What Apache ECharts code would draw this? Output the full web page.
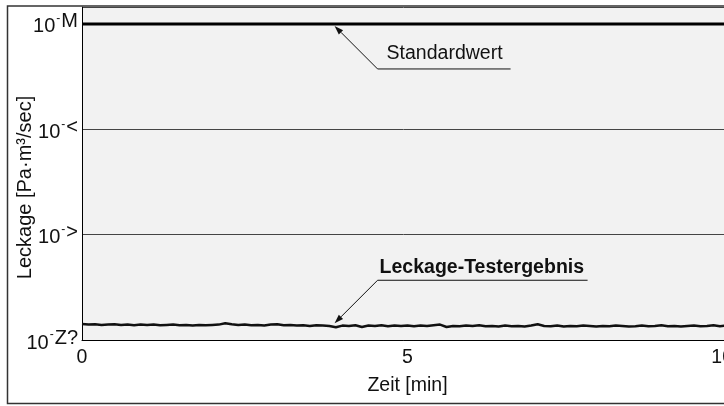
<!DOCTYPE html>
<html>
<head>
<meta charset="utf-8">
<script src="https://cdn.jsdelivr.net/npm/echarts@6/dist/echarts.min.js"></script>
<style>
  html, body { margin: 0; padding: 0; background: #fff; }
  #chart { width: 724px; height: 406px; }
</style>
</head>
<body>
<div id="chart"></div>
<script>
// time axis [min]
const timeMin = [
  0.0, 0.1, 0.2, 0.3, 0.4, 0.5, 0.6, 0.7, 0.8, 0.9, 1.0,
  1.1, 1.2, 1.3, 1.4, 1.5, 1.6, 1.7, 1.8, 1.9, 2.0,
  2.1, 2.2, 2.3, 2.4, 2.5, 2.6, 2.7, 2.8, 2.9, 3.0,
  3.1, 3.2, 3.3, 3.4, 3.5, 3.6, 3.7, 3.8, 3.9, 4.0,
  4.1, 4.2, 4.3, 4.4, 4.5, 4.6, 4.7, 4.8, 4.9, 5.0,
  5.1, 5.2, 5.3, 5.4, 5.5, 5.6, 5.7, 5.8, 5.9, 6.0,
  6.1, 6.2, 6.3, 6.4, 6.5, 6.6, 6.7, 6.8, 6.9, 7.0,
  7.1, 7.2, 7.3, 7.4, 7.5, 7.6, 7.7, 7.8, 7.9, 8.0,
  8.1, 8.2, 8.3, 8.4, 8.5, 8.6, 8.7, 8.8, 8.9, 9.0,
  9.1, 9.2, 9.3, 9.4, 9.5, 9.6, 9.7, 9.8, 9.9, 10.0
];
// measured leakage, mantissa x 1e-11
const leakMantissa = [
  1.42, 1.40, 1.41, 1.39, 1.40, 1.41, 1.39, 1.40, 1.38, 1.40, 1.39,
  1.40, 1.38, 1.39, 1.40, 1.38, 1.39, 1.37, 1.39, 1.38, 1.39,
  1.40, 1.44, 1.41, 1.39, 1.40, 1.38, 1.39, 1.37, 1.40, 1.41,
  1.38, 1.39, 1.37, 1.38, 1.36, 1.38, 1.37, 1.36, 1.32, 1.37,
  1.36, 1.38, 1.33, 1.37, 1.36, 1.38, 1.35, 1.37, 1.36, 1.37,
  1.35, 1.37, 1.36, 1.38, 1.40, 1.33, 1.36, 1.35, 1.37, 1.36,
  1.38, 1.35, 1.36, 1.34, 1.37, 1.35, 1.36, 1.34, 1.37, 1.41,
  1.36, 1.35, 1.37, 1.34, 1.36, 1.35, 1.37, 1.36, 1.34, 1.36,
  1.35, 1.37, 1.36, 1.34, 1.35, 1.37, 1.35, 1.36, 1.38, 1.35,
  1.36, 1.34, 1.36, 1.37, 1.35, 1.36, 1.38, 1.35, 1.37, 1.36
];
const standardTime = [0, 10];
const standardValue = [1e-8, 1e-8];

const yTickExponents = [-11, -10, -9, -8];
const yTickSuffix = ['Z?', '>', '<', 'M'];
const xTicks = [0, 5, 10];

const noteTexts = ['Standardwert', 'Leckage-Testergebnis'];
const notePoints = [[3.88, 1e-8], [3.88, 1.38e-11]];

const FONT = '"Liberation Sans", Arial, Helvetica, sans-serif';

const chart = echarts.init(document.getElementById('chart'));

const leakData = timeMin.map((t, i) => [t, leakMantissa[i] * 1e-11]);
const standardData = standardTime.map((t, i) => [t, standardValue[i]]);

const option = {
  animation: false,
  backgroundColor: '#fff',
  textStyle: { fontFamily: FONT },
  grid: {
    left: 82,
    right: -9,
    top: 7,
    bottom: 66,
    outerBoundsMode: 'none',
    containLabel: false,
    show: true,
    backgroundColor: '#f2f2f2',
    borderWidth: 0,
  },
  xAxis: {
    type: 'value',
    min: xTicks[0],
    max: xTicks[xTicks.length - 1],
    interval: 5,
    name: 'Zeit [min]',
    nameLocation: 'middle',
    nameGap: 36,
    nameMoveOverlap: false,
    nameTextStyle: { fontSize: 19.5, color: '#111', fontFamily: FONT },
    axisLine: { lineStyle: { color: '#000', width: 1 } },
    axisTick: { show: false },
    splitLine: { show: false },
    axisLabel: {
      fontSize: 19.5,
      color: '#111',
      margin: 8,
      fontFamily: FONT,
      alignMaxLabel: 'right',
    },
  },
  yAxis: {
    type: 'log',
    logBase: 10,
    min: Math.pow(10, yTickExponents[0]),
    max: Math.pow(10, -7.839),
    interval: 1,
    name: 'Leckage [Pa·m³/sec]',
    nameLocation: 'middle',
    nameGap: 47,
    nameMoveOverlap: false,
    nameTextStyle: { fontSize: 20, color: '#111', fontFamily: FONT, padding: [0, 28, 0, 0] },
    axisLine: { show: true, lineStyle: { color: '#000', width: 1 } },
    axisTick: { show: false },
    splitLine: { show: true, lineStyle: { color: '#444', width: 1 } },
    axisLabel: {
      showMaxLabel: false,
      margin: 4,
      formatter: (v) => {
        const e = Math.round(Math.log10(v));
        const idx = yTickExponents.indexOf(e);
        if (idx < 0) return '';
        return '{b|10}{m|-}{s|' + yTickSuffix[idx] + '}';
      },
      rich: {
        b: { fontSize: 20, color: '#111', fontFamily: FONT, padding: [6, 0, 0, 0] },
        m: { fontSize: 12, color: '#111', fontFamily: FONT, padding: [0, 1, 10, 1] },
        s: { fontSize: 20, color: '#111', fontFamily: FONT, padding: [0, 0, 4, 0] },
      },
    },
  },
  series: [
    {
      name: 'Standardwert',
      type: 'line',
      data: standardData,
      showSymbol: false,
      lineStyle: { color: '#000', width: 3 },
      z: 3,
    },
    {
      name: 'Leckage-Testergebnis',
      type: 'line',
      data: leakData,
      showSymbol: false,
      lineStyle: { color: '#111', width: 2.5 },
      z: 3,
    },
  ],
};

chart.setOption(option);

// annotation leaders, anchored to data positions
const tip0 = chart.convertToPixel({ gridIndex: 0 }, notePoints[0]);
const tip1 = chart.convertToPixel({ gridIndex: 0 }, notePoints[1]);
const notes = [
  { tip: [tip0[0], tip0[1] + 2], dy: 43, len: 133, bold: false, textDx: 9, textDy: -15 },
  { tip: [tip1[0], tip1[1] - 2], dy: -43, len: 210, bold: true, textDx: 2, textDy: -13 },
];

const graphics = [
  {
    type: 'rect',
    shape: { x: 7.5, y: 6, width: 760, height: 397.5 },
    style: { fill: null, stroke: '#333', lineWidth: 1.5 },
    silent: true,
    z: 100,
  },
];

notes.forEach((n, i) => {
  const knee = [n.tip[0] + 43, n.tip[1] + n.dy];
  const end = [knee[0] + n.len, knee[1]];
  const dx = n.tip[0] - knee[0], dy = n.tip[1] - knee[1];
  const L = Math.sqrt(dx * dx + dy * dy);
  const ux = dx / L, uy = dy / L;
  const bx = n.tip[0] - ux * 9, by = n.tip[1] - uy * 9;
  const px = -uy * 3, py = ux * 3;
  graphics.push(
    {
      type: 'polyline',
      shape: { points: [end, knee, [bx, by]] },
      style: { stroke: '#111', lineWidth: 1, fill: null },
      z: 50,
    },
    {
      type: 'polygon',
      shape: { points: [n.tip, [bx + px, by + py], [bx - px, by - py]] },
      style: { fill: '#111' },
      z: 50,
    },
    {
      type: 'text',
      x: knee[0] + n.textDx,
      y: knee[1] + n.textDy,
      style: {
        text: noteTexts[i],
        fontSize: 19.5,
        fontWeight: n.bold ? 'bold' : 'normal',
        fontFamily: FONT,
        fill: '#111',
        verticalAlign: 'middle',
        align: 'left',
      },
      z: 50,
    }
  );
});

chart.setOption({ graphic: graphics });
</script>
</body>
</html>
